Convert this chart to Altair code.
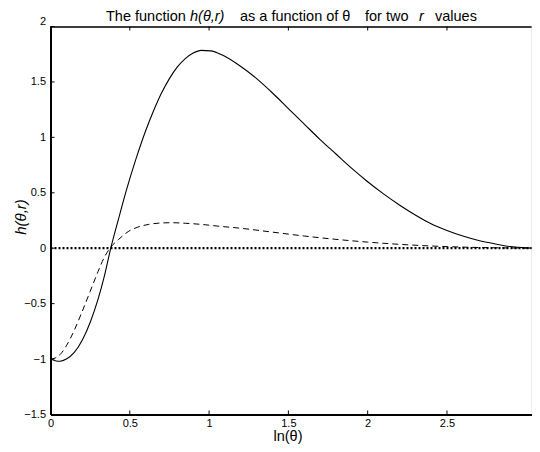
import altair as alt
import pandas as pd

# ---- data ----
solid_x = [0.00, 0.03, 0.06, 0.10, 0.15, 0.20, 0.25, 0.30, 0.34, 0.38, 0.43, 0.48, 0.54, 0.60, 0.65,
           0.70, 0.75, 0.80, 0.85, 0.90, 0.95, 1.01, 1.08, 1.18, 1.30, 1.40, 1.50, 1.60, 1.70, 1.80,
           1.90, 2.00, 2.10, 2.20, 2.30, 2.40, 2.50, 2.60, 2.70, 2.80, 2.90, 3.00, 3.08]
solid_y = [-1.00, -1.015, -1.02, -1.00, -0.94, -0.83, -0.67, -0.46, -0.25, 0.0, 0.27, 0.53, 0.81, 1.06, 1.24,
           1.40, 1.53, 1.635, 1.71, 1.76, 1.785, 1.78, 1.745, 1.66, 1.53, 1.40, 1.26, 1.12, 0.98, 0.85,
           0.72, 0.60, 0.49, 0.39, 0.30, 0.22, 0.16, 0.11, 0.07, 0.04, 0.015, 0.003, 0.0]

dashed_x = [0.00, 0.03, 0.06, 0.10, 0.15, 0.20, 0.25, 0.30, 0.34, 0.375, 0.43, 0.49, 0.55, 0.62, 0.70,
            0.77, 0.85, 0.95, 1.05, 1.20, 1.40, 1.60, 1.80, 2.00, 2.20, 2.40, 2.60, 2.80, 3.00, 3.08]
dashed_y = [-1.00, -0.99, -0.96, -0.88, -0.74, -0.57, -0.39, -0.21, -0.08, 0.0, 0.08, 0.15, 0.19, 0.215, 0.228,
            0.23, 0.225, 0.215, 0.20, 0.18, 0.145, 0.11, 0.08, 0.055, 0.035, 0.02, 0.01, 0.004, 0.001, 0.0]

zero_x = [0.0, 3.08]
zero_y = [0.0, 0.0]

x_ticks = [0, 0.5, 1, 1.5, 2, 2.5]
y_ticks = [-1.5, -1, -0.5, 0, 0.5, 1, 1.5, 2]

X_DOMAIN = [0, 3.033]
Y_DOMAIN = [-1.5, 2]

W, H = 481, 388
FONT = "Liberation Sans"

xs = alt.Scale(domain=X_DOMAIN, nice=False, zero=False)
ys = alt.Scale(domain=Y_DOMAIN, nice=False, zero=False)

solid_df = pd.DataFrame({"x": solid_x, "y": solid_y})
dashed_df = pd.DataFrame({"x": dashed_x, "y": dashed_y})
zero_df = pd.DataFrame({"x": zero_x, "y": zero_y})
xt_df = pd.DataFrame({"v": x_ticks})
yt_df = pd.DataFrame({"v": y_ticks})

x_axis = alt.Axis(values=x_ticks, format="~g", ticks=False, grid=False, domainColor="black",
                  domainWidth=2, labelFont=FONT, labelFontSize=11, labelColor="black",
                  labelPadding=3, title=None, labelFlush=False)
y_axis = alt.Axis(values=y_ticks, format="~g", ticks=False, grid=False, domainColor="black",
                  domainWidth=2, labelFont=FONT, labelFontSize=11, labelColor="black",
                  labelPadding=5, title=None, labelFlush=False,
                  labelBaseline={"condition": {"test": "datum.value == 2", "value": "bottom"},
                                 "value": "middle"})

solid = alt.Chart(solid_df).mark_line(color="black", strokeWidth=1.1, interpolate="monotone",
                                      clip=True).encode(
    x=alt.X("x:Q", scale=xs, axis=x_axis),
    y=alt.Y("y:Q", scale=ys, axis=y_axis),
)
dashed = alt.Chart(dashed_df).mark_line(color="black", strokeWidth=1, strokeDash=[6, 4],
                                        interpolate="monotone", clip=True).encode(
    x=alt.X("x:Q", scale=xs), y=alt.Y("y:Q", scale=ys)
)
zero = alt.Chart(zero_df).mark_line(color="black", strokeWidth=2.2, strokeDash=[2, 2],
                                    clip=True).encode(
    x=alt.X("x:Q", scale=xs), y=alt.Y("y:Q", scale=ys)
)

# top frame line
top_line = alt.Chart(zero_df).mark_rule(color="black", strokeWidth=1).encode(
    x=alt.value(0), x2=alt.value(W), y=alt.value(0.5)
)

# inward ticks
tick_len = 4
bottom_ticks = alt.Chart(xt_df).mark_rule(color="black", strokeWidth=1).encode(
    x=alt.X("v:Q", scale=xs), y=alt.value(H), y2=alt.value(H - tick_len))
top_ticks = alt.Chart(xt_df).mark_rule(color="black", strokeWidth=1).encode(
    x=alt.X("v:Q", scale=xs), y=alt.value(0), y2=alt.value(tick_len))
left_ticks = alt.Chart(yt_df).mark_rule(color="black", strokeWidth=1).encode(
    y=alt.Y("v:Q", scale=ys), x=alt.value(0), x2=alt.value(tick_len))


def txt(s, x, y, size=14.5, style="normal", angle=0, align="left", baseline="alphabetic"):
    return alt.Chart(zero_df.head(1)).mark_text(
        text=s, font=FONT, fontSize=size, fontStyle=style, color="black",
        align=align, baseline=baseline, angle=angle
    ).encode(x=alt.value(x), y=alt.value(y))


TY = -6
title_parts = [
    txt("The function", 55.5, TY),
    txt("h(θ,r)", 139.5, TY, style="italic"),
    txt("as a function of θ", 189.5, TY),
    txt("for two", 314.5, TY),
    txt("r", 368.5, TY, style="italic"),
    txt("values", 384.5, TY),
]
xlabel = txt("ln(θ)", 237.5, 414.5, size=14.5, align="center")
ylabel = txt("h(θ,r)", -29.5, 190.5, size=15, style="italic", angle=270, align="center",
             baseline="middle")

chart = alt.layer(
    zero, dashed, solid, top_line, bottom_ticks, top_ticks, left_ticks,
    *title_parts, xlabel, ylabel
).properties(
    width=W, height=H,
    autosize=alt.AutoSizeParams(type="none"),
    padding={"left": 42.5, "top": 18.5, "right": 0, "bottom": 29.5},
).configure_view(stroke=None).configure(background="white")

chart.save("out.html", embed_options={"renderer": "svg", "actions": False})
